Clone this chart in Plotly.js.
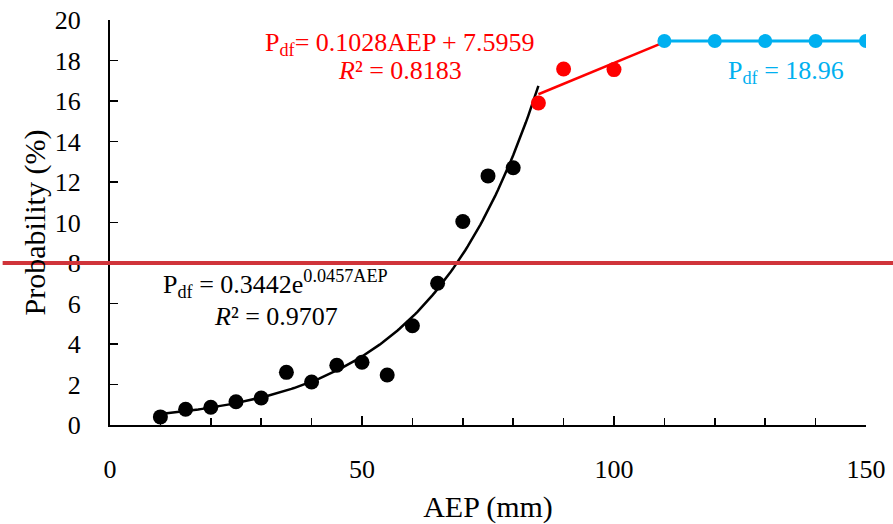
<!DOCTYPE html>
<html>
<head>
<meta charset="utf-8">
<script src="https://cdn.plot.ly/plotly-3.0.1.min.js"></script>
<style>html,body{margin:0;padding:0;background:#fff;}#chart{width:893px;height:524px;}</style>
</head>
<body>
<div id="chart"></div>
<script>
var blackX = [10, 15, 20, 25, 30, 35, 40, 45, 50, 55, 60, 65, 70, 75, 80];
var blackY = [0.40, 0.78, 0.88, 1.15, 1.33, 2.60, 2.12, 2.95, 3.10, 2.47, 4.90, 7.00, 10.05, 12.30, 12.70];
var redX = [85, 90, 100];
var redY = [15.90, 17.58, 17.55];
var blueX = [110, 120, 130, 140, 150];
var blueY = [18.96, 18.96, 18.96, 18.96, 18.96];
// Trendline coefficients shown on the chart
var expCoef = [0.3442, 0.0457];   // a, b for a*exp(b*AEP)
var expRange = [10, 85];
var linCoef = [0.1028, 7.5959];   // slope, intercept
var linRange = [85, 110];
var thresholdY = [8];
var xTicks = [0, 50, 100, 150];

var font = 'Times New Roman, Liberation Serif, DejaVu Serif, serif';

var expX = [], expY = [];
for (var x = expRange[0]; x <= expRange[1] + 1e-9; x += 0.5) {
  expX.push(x);
  expY.push(expCoef[0] * Math.exp(expCoef[1] * x));
}
var linX = linRange.slice();
var linY = linRange.map(function (v) { return linCoef[0] * v + linCoef[1]; });

var traces = [
  {x: expX, y: expY, mode: 'lines', line: {color: '#000', width: 2.5}, hoverinfo: 'skip'},
  {x: linX, y: linY, mode: 'lines', line: {color: '#ff0000', width: 2.5}, hoverinfo: 'skip'},
  {x: blueX, y: blueY, mode: 'lines+markers', line: {color: '#00b0f0', width: 3},
   marker: {color: '#00b0f0', size: 14}},
  {x: blackX, y: blackY, mode: 'markers', marker: {color: '#000', size: 15}},
  {x: redX, y: redY, mode: 'markers', marker: {color: '#ff0000', size: 15}}
];

function ann(x, y, text, color) {
  return {xref: 'x', yref: 'y', x: x, y: y, showarrow: false, text: text,
          font: {family: font, size: 26, color: color}, xanchor: 'center', yanchor: 'middle'};
}

var layout = {
  width: 893, height: 524,
  margin: {l: 110, r: 27, t: 20, b: 99},
  showlegend: false,
  paper_bgcolor: '#fff', plot_bgcolor: '#fff',
  font: {family: font, size: 25, color: '#000'},
  xaxis: {
    range: [0, 150], tickvals: xTicks, ticks: 'inside', ticklen: 9, tickwidth: 1.5, tickcolor: '#000',
    showline: true, linecolor: '#000', linewidth: 2, showgrid: false, zeroline: false,
    minor: {dtick: 10, ticks: 'inside', ticklen: 7, tickwidth: 1.5, tickcolor: '#000', showgrid: false},
    ticklabelstandoff: 20,
    tickfont: {family: font, size: 26, color: '#000'},
    title: {text: 'AEP (mm)', font: {family: font, size: 30, color: '#000'}, standoff: 13}
  },
  yaxis: {
    range: [0, 20], dtick: 2, ticks: 'inside', ticklen: 8, tickwidth: 1.5, tickcolor: '#000',
    showline: true, linecolor: '#000', linewidth: 2, showgrid: false, zeroline: false,
    ticklabelstandoff: 22,
    tickfont: {family: font, size: 26, color: '#000'},
    title: {text: 'Probability (%)', font: {family: font, size: 30, color: '#000'}, standoff: 0}
  },
  shapes: [{
    type: 'line', xref: 'paper', yref: 'y', x0: -0.142, x1: 1.04, y0: thresholdY[0], y1: thresholdY[0],
    line: {color: '#d0343a', width: 4}
  }],
  annotations: [
    ann(57.5, 18.8, 'P<sub>df</sub>= 0.1028AEP + 7.5959', '#ff0000'),
    ann(57.5, 17.53, '<i>R</i>² = 0.8183', '#ff0000'),
    ann(134.1, 17.45, 'P<sub>df</sub> = 18.96', '#00b0f0'),
    ann(32.9, 6.95, 'P<sub>df</sub> = 0.3442e<sup>0.0457AEP</sup>', '#000'),
    ann(32.9, 5.38, '<i>R</i>² = 0.9707', '#000')
  ]
};

Plotly.newPlot('chart', traces, layout, {displayModeBar: false, staticPlot: true});
</script>
</body>
</html>
